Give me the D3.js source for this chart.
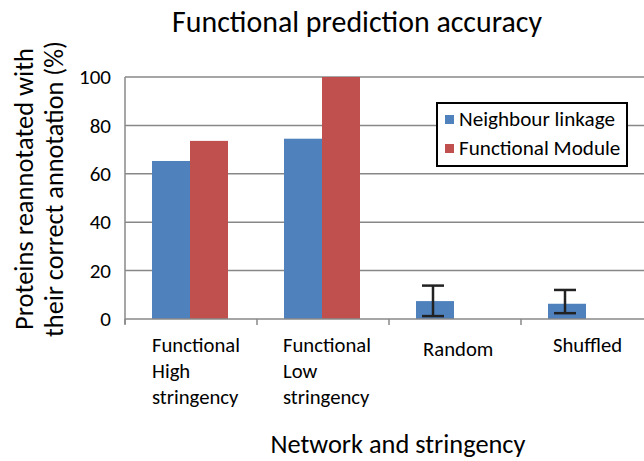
<!DOCTYPE html>
<html>
  <head>
    <title>Functional prediction accuracy</title>
    <script src="https://d3js.org/d3.v7.min.js"></script>
  </head>
  <style>
    body {
      margin: 0;
      background-color: white;
    }
    text {
      font-family: Carlito, Lato, "Open Sans", sans-serif;
      fill: #000;
    }
    .grid line {
      stroke: #888;
      stroke-width: 1.5px;
    }
  </style>
  <body>
    <div id="chart"></div>
    <script>

    // chart values
    var categories = ["Functional High stringency", "Functional Low stringency", "Random", "Shuffled"];
    var catLabels = [["Functional", "High", "stringency"], ["Functional", "Low", "stringency"], ["Random"], ["Shuffled"]];
    var seriesNames = ["Neighbour linkage", "Functional Module"];
    var neighbourLinkage = [65.3, 74.5, 7.4, 6.3];
    var functionalModule = [73.6, 100, null, null];
    var errLow = [null, null, 1.2, 2.4];
    var errHigh = [null, null, 13.8, 12.0];
    var yTicks = [0, 20, 40, 60, 80, 100];
    var colors = ["#4F81BD", "#C0504D"];

    var width = 644, height = 461;
    var mLeft = 125, mTop = 77, mBottom = 319, mRight = 653;

    var svg = d3.select("#chart").append("svg")
        .attr("width", width)
        .attr("height", height);

    var x = d3.scaleBand().domain(categories).range([mLeft, mRight]);
    var y = d3.scaleLinear().domain([0, 100]).range([mBottom, mTop]);
    var xSub = d3.scaleBand().domain(seriesNames).range([0, 76]);

    // fit a text to a target width
    function fit(sel, w) {
      var len = sel.node().getComputedTextLength();
      var fs = parseFloat(sel.style("font-size"));
      sel.style("font-size", (fs * w / len) + "px");
      return fs * w / len;
    }

    // gridlines
    svg.append("g").attr("class", "grid")
      .selectAll("line")
      .data(yTicks.filter(d => d > 0))
      .enter().append("line")
        .attr("x1", mLeft).attr("x2", width)
        .attr("y1", d => y(d)).attr("y2", d => y(d));

    // bars
    var series = [neighbourLinkage, functionalModule];
    series.forEach((vals, s) => {
      svg.append("g").selectAll("rect")
        .data(categories.map((c, i) => ({c: c, v: vals[i]})).filter(d => d.v != null))
        .enter().append("rect")
          .attr("x", d => x(d.c) + x.bandwidth() / 2 - 39 + xSub(seriesNames[s]))
          .attr("width", xSub.bandwidth())
          .attr("y", d => y(d.v))
          .attr("height", d => y(0) - y(d.v))
          .attr("fill", colors[s]);
    });

    // error bars on blue bars
    var errData = categories.map((c, i) => ({c: c, lo: errLow[i], hi: errHigh[i]})).filter(d => d.lo != null);
    var eg = svg.append("g").attr("stroke", "#222").attr("stroke-width", 2.5);
    errData.forEach(d => {
      var cx = x(d.c) + x.bandwidth() / 2 - 22;
      eg.append("line").attr("x1", cx).attr("x2", cx).attr("y1", y(d.lo)).attr("y2", y(d.hi));
      eg.append("line").attr("x1", cx - 11).attr("x2", cx + 11).attr("y1", y(d.lo)).attr("y2", y(d.lo));
      eg.append("line").attr("x1", cx - 11).attr("x2", cx + 11).attr("y1", y(d.hi)).attr("y2", y(d.hi));
    });

    // axes
    var yAxis = svg.append("g")
        .attr("transform", "translate(" + mLeft + ",0)")
        .call(d3.axisLeft(y).tickValues(yTicks).tickSize(5).tickPadding(9));
    yAxis.selectAll("text").style("font-size", "17px").style("font-family", null);
    var tfs = fit(yAxis.selectAll("text").filter(d => d === 100), 32);
    yAxis.selectAll("text").style("font-size", tfs + "px");
    yAxis.selectAll("line,path").attr("stroke", "#888").attr("stroke-width", 1.5);
    yAxis.select("path").attr("d", "M0," + mTop + "V" + (mBottom + 5));
    yAxis.selectAll(".tick line").attr("x1", 0).attr("x2", 0);

    var xAxis = svg.append("g")
        .attr("transform", "translate(0," + mBottom + ")")
        .call(d3.axisBottom(x).tickSize(0).tickFormat(""));
    xAxis.select("path").attr("d", "M" + mLeft + ",0H" + width).attr("stroke", "#888").attr("stroke-width", 1.5);
    // category boundary ticks
    svg.append("g").selectAll("line")
      .data(categories)
      .enter().append("line")
        .attr("x1", d => x(d)).attr("x2", d => x(d))
        .attr("y1", mBottom).attr("y2", mBottom + 6)
        .attr("stroke", "#888").attr("stroke-width", 1.5);

    // category labels
    var labelPos = [[152, 352], [283, 352], [423, 356], [553, 352]];
    var probe = svg.append("text").style("font-size", "17px").text("Functional");
    var cfs = fit(probe, 88);
    probe.remove();
    catLabels.forEach((lines, i) => {
      var t = svg.append("text")
        .attr("x", labelPos[i][0])
        .attr("y", labelPos[i][1])
        .style("font-size", cfs + "px");
      lines.forEach((l, j) => {
        t.append("tspan").attr("x", labelPos[i][0]).attr("dy", j ? 26 : 0).text(l);
      });
    });

    // title
    var title = svg.append("text")
        .attr("x", 357).attr("y", 32)
        .attr("text-anchor", "middle")
        .style("font-size", "26px")
        .text("Functional prediction accuracy");
    fit(title, 370);

    // x axis title
    var xt = svg.append("text")
        .attr("x", 398).attr("y", 453)
        .attr("text-anchor", "middle")
        .style("font-size", "20px")
        .text("Network and stringency");
    fit(xt, 255);

    // y axis title
    var yt1 = svg.append("text")
        .attr("transform", "translate(33,189) rotate(-90)")
        .attr("text-anchor", "middle")
        .style("font-size", "20px")
        .text("Proteins reannotated with");
    fit(yt1, 282);
    var yt2 = svg.append("text")
        .attr("transform", "translate(63,189) rotate(-90)")
        .attr("text-anchor", "middle")
        .style("font-size", "20px")
        .text("their correct annotation (%)");
    fit(yt2, 296);

    // legend
    var lg = svg.append("g").attr("transform", "translate(437,103)");
    lg.append("rect")
      .attr("width", 190).attr("height", 63)
      .attr("fill", "white").attr("stroke", "#000").attr("stroke-width", 2);
    var lfs = 17;
    seriesNames.forEach((n, i) => {
      lg.append("rect")
        .attr("x", 8).attr("y", 12 + i * 29)
        .attr("width", 9).attr("height", 9)
        .attr("fill", colors[i]);
      var lt = lg.append("text")
        .attr("x", 22).attr("y", 23 + i * 29)
        .style("font-size", lfs + "px")
        .text(n);
      if (i === 0) lfs = fit(lt, 156);
    });

    </script>
  </body>
</html>
